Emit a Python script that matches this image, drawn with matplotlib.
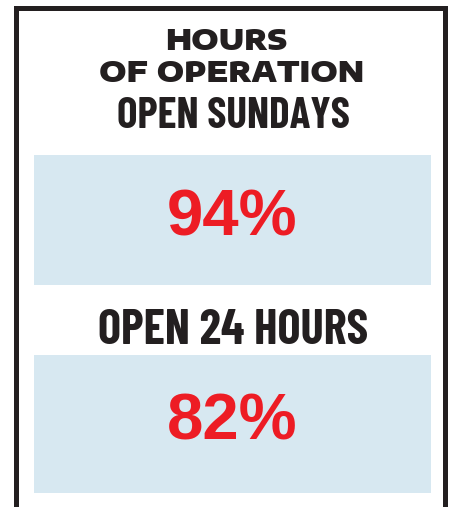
import matplotlib
matplotlib.use("Agg")
import matplotlib.pyplot as plt
from matplotlib.patches import Rectangle

title_lines = ["HOURS", "OF OPERATION"]
categories = ["OPEN SUNDAYS", "OPEN 24 HOURS"]
values = [94, 82]

W, H = 452, 507
fig = plt.figure(figsize=(W / 100, H / 100), dpi=100)
ax = fig.add_axes([0, 0, 1, 1])
ax.set_xlim(0, W)
ax.set_ylim(H, 0)
ax.axis("off")

dark = "#231f20"
red = "#ed1c24"
blue = "#d7e8f1"

title_font = ["Encode Sans Expanded", "DejaVu Sans"]
label_font = ["Barlow Condensed", "Roboto Condensed", "DejaVu Sans"]
pct_font = ["Liberation Sans", "DejaVu Sans"]

renderer = fig.canvas.get_renderer()


def fit(t, target_w, max_size):
    bb = t.get_window_extent(renderer=renderer)
    size = t.get_fontsize() * target_w / bb.width
    t.set_fontsize(min(size, max_size))


# frame (left, top, right)
ax.add_patch(Rectangle((14, 6), 5, H, color=dark, lw=0))
ax.add_patch(Rectangle((14, 6), 434, 5, color=dark, lw=0))
ax.add_patch(Rectangle((443, 6), 5, H, color=dark, lw=0))

# title
t1 = ax.text(226, 39, title_lines[0], ha="center", va="center_baseline",
             fontsize=20, fontweight="black", family=title_font, color=dark)
t2 = ax.text(232, 71, title_lines[1], ha="center", va="center_baseline",
             fontsize=20, fontweight="black", family=title_font, color=dark)
fit(t1, 165, 21)
fit(t2, 379, 21)

label_y = [113, 326]
label_w = [233, 278]
box_top = [155, 355]
box_bot = [285, 493]
for cat, val, ly, lw_, bt, bb in zip(categories, values, label_y, label_w, box_top, box_bot):
    t = ax.text(233, ly, cat, ha="center", va="center_baseline", fontsize=31,
                fontweight="bold", family=label_font, color=dark)
    fit(t, lw_, 35)
    ax.add_patch(Rectangle((34, bt), 397, bb - bt, color=blue, lw=0))
    ax.text(232, (bt + bb) / 2 - 8, f"{val}%", ha="center", va="center_baseline",
            fontsize=47, fontweight="bold", family=pct_font, color=red)

fig.savefig("out.png", dpi=100)
